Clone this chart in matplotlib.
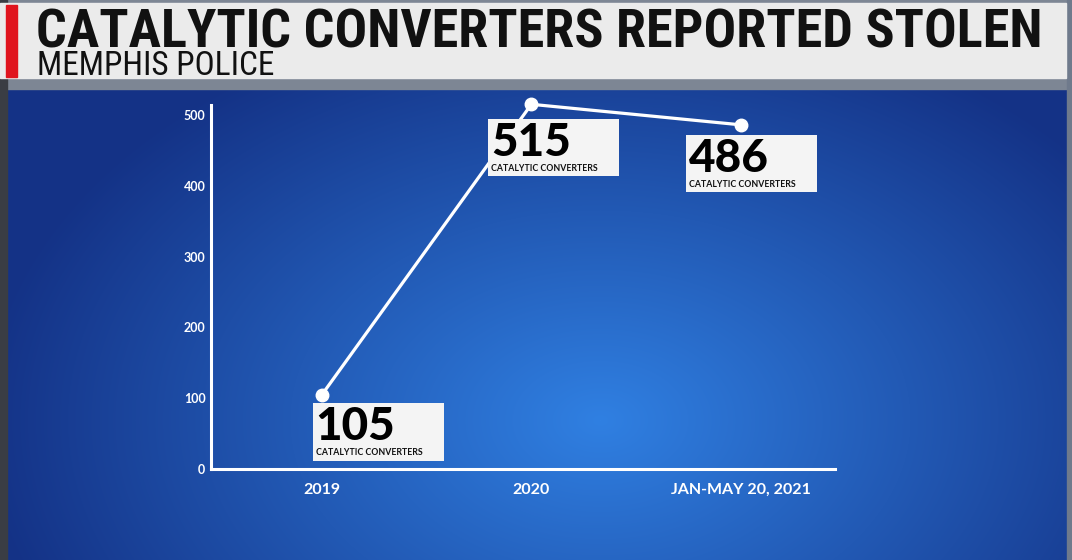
import matplotlib.pyplot as plt
import numpy as np
from matplotlib.patches import Rectangle
from matplotlib.offsetbox import TextArea, VPacker, AnnotationBbox, DrawingArea

periods = ["2019", "2020", "JAN-MAY 20, 2021"]
stolen = [105, 515, 486]
unit_label = "CATALYTIC CONVERTERS"
y_ticks = [0, 100, 200, 300, 400, 500]

title = "CATALYTIC CONVERTERS REPORTED STOLEN"
subtitle = "MEMPHIS POLICE"

head_font = ["Roboto Condensed", "Liberation Sans Narrow", "DejaVu Sans"]
W, H = 1072, 560
fig = plt.figure(figsize=(W / 100, H / 100), dpi=100)

# background: blue gradient panel
bg = fig.add_axes([0, 0, 1, 1], zorder=0)
bg.set_xlim(0, W)
bg.set_ylim(H, 0)
bg.axis("off")
yy, xx = np.mgrid[0:H, 0:W]
d = np.sqrt(((xx - 600) / 620) ** 2 + ((yy - 420) / 420) ** 2)
d = np.clip(d, 0, 1)
c_in = np.array([0x30, 0x80, 0xe2]) / 255
c_out = np.array([0x14, 0x32, 0x86]) / 255
img = c_in[None, None, :] * (1 - d[..., None]) + c_out[None, None, :] * d[..., None]
bg.imshow(img, extent=[0, W, H, 0], aspect="auto")

# photo strips around the panel
bg.add_patch(Rectangle((0, 0), W, 89, color="#7d8694", zorder=2))
bg.add_patch(Rectangle((0, 0), 7, H, color="#3a3d44", zorder=2))
bg.add_patch(Rectangle((1067, 0), 5, H, color="#6f7a8c", zorder=2))
# header banner
bg.add_patch(Rectangle((0, 3), 1066, 75, color="#ebebeb", zorder=3))
bg.add_patch(Rectangle((6, 5), 11, 72, color="#e0141e", zorder=4))
bg.text(36, 47, title, fontsize=39, fontweight="bold", color="#111111",
        family=head_font, va="baseline", zorder=5)
bg.text(37, 75, subtitle, fontsize=24, color="#111111",
        family=head_font, va="baseline", zorder=5)

# chart
ax = fig.add_axes([211 / W, 91 / H, 624 / W, 364 / H], zorder=2)
ax.patch.set_alpha(0)
x = np.arange(len(periods))
ax.plot(x, stolen, color="white", lw=2.3, marker="o", ms=9,
        mfc="white", mec="white", zorder=3, clip_on=False)

ax.set_xlim(-0.53, 2.45)
ax.set_ylim(0, 514)
ax.set_xticks(x)
ax.set_xticklabels(periods)
ax.set_yticks(y_ticks)
for s in ["top", "right"]:
    ax.spines[s].set_visible(False)
for s in ["left", "bottom"]:
    ax.spines[s].set_color("white")
    ax.spines[s].set_linewidth(2.2)
ax.tick_params(length=0, colors="white")
for lab in ax.get_yticklabels():
    lab.set_fontsize(9)
    lab.set_fontweight("bold")
    lab.set_family("Lato")
for lab in ax.get_xticklabels():
    lab.set_fontsize(11.5)
    lab.set_fontweight("bold")
    lab.set_family("Lato")
ax.tick_params(axis="y", pad=4)
ax.tick_params(axis="x", pad=10)

offsets = [(-4.5, -8.5), (-29, -12.5), (-37, -9.5)]
for xi, v, off in zip(x, stolen, offsets):
    big = TextArea(str(v), textprops=dict(fontsize=33, fontweight="black",
                                          family="Lato", color="black"))
    small = TextArea(unit_label, textprops=dict(fontsize=6.3, fontweight="bold",
                                                family="Lato", color="#111111"))
    filler = DrawingArea(90, 0)
    pack = VPacker(children=[big, small, filler], align="left", pad=0, sep=0)
    ab = AnnotationBbox(pack, (xi, v), xybox=off, boxcoords="offset points",
                        box_alignment=(0, 1), pad=0.22, frameon=True,
                        bboxprops=dict(fc="#f4f4f4", ec="none"),
                        annotation_clip=False, zorder=4)
    ax.add_artist(ab)

fig.savefig("out.png", dpi=100)
